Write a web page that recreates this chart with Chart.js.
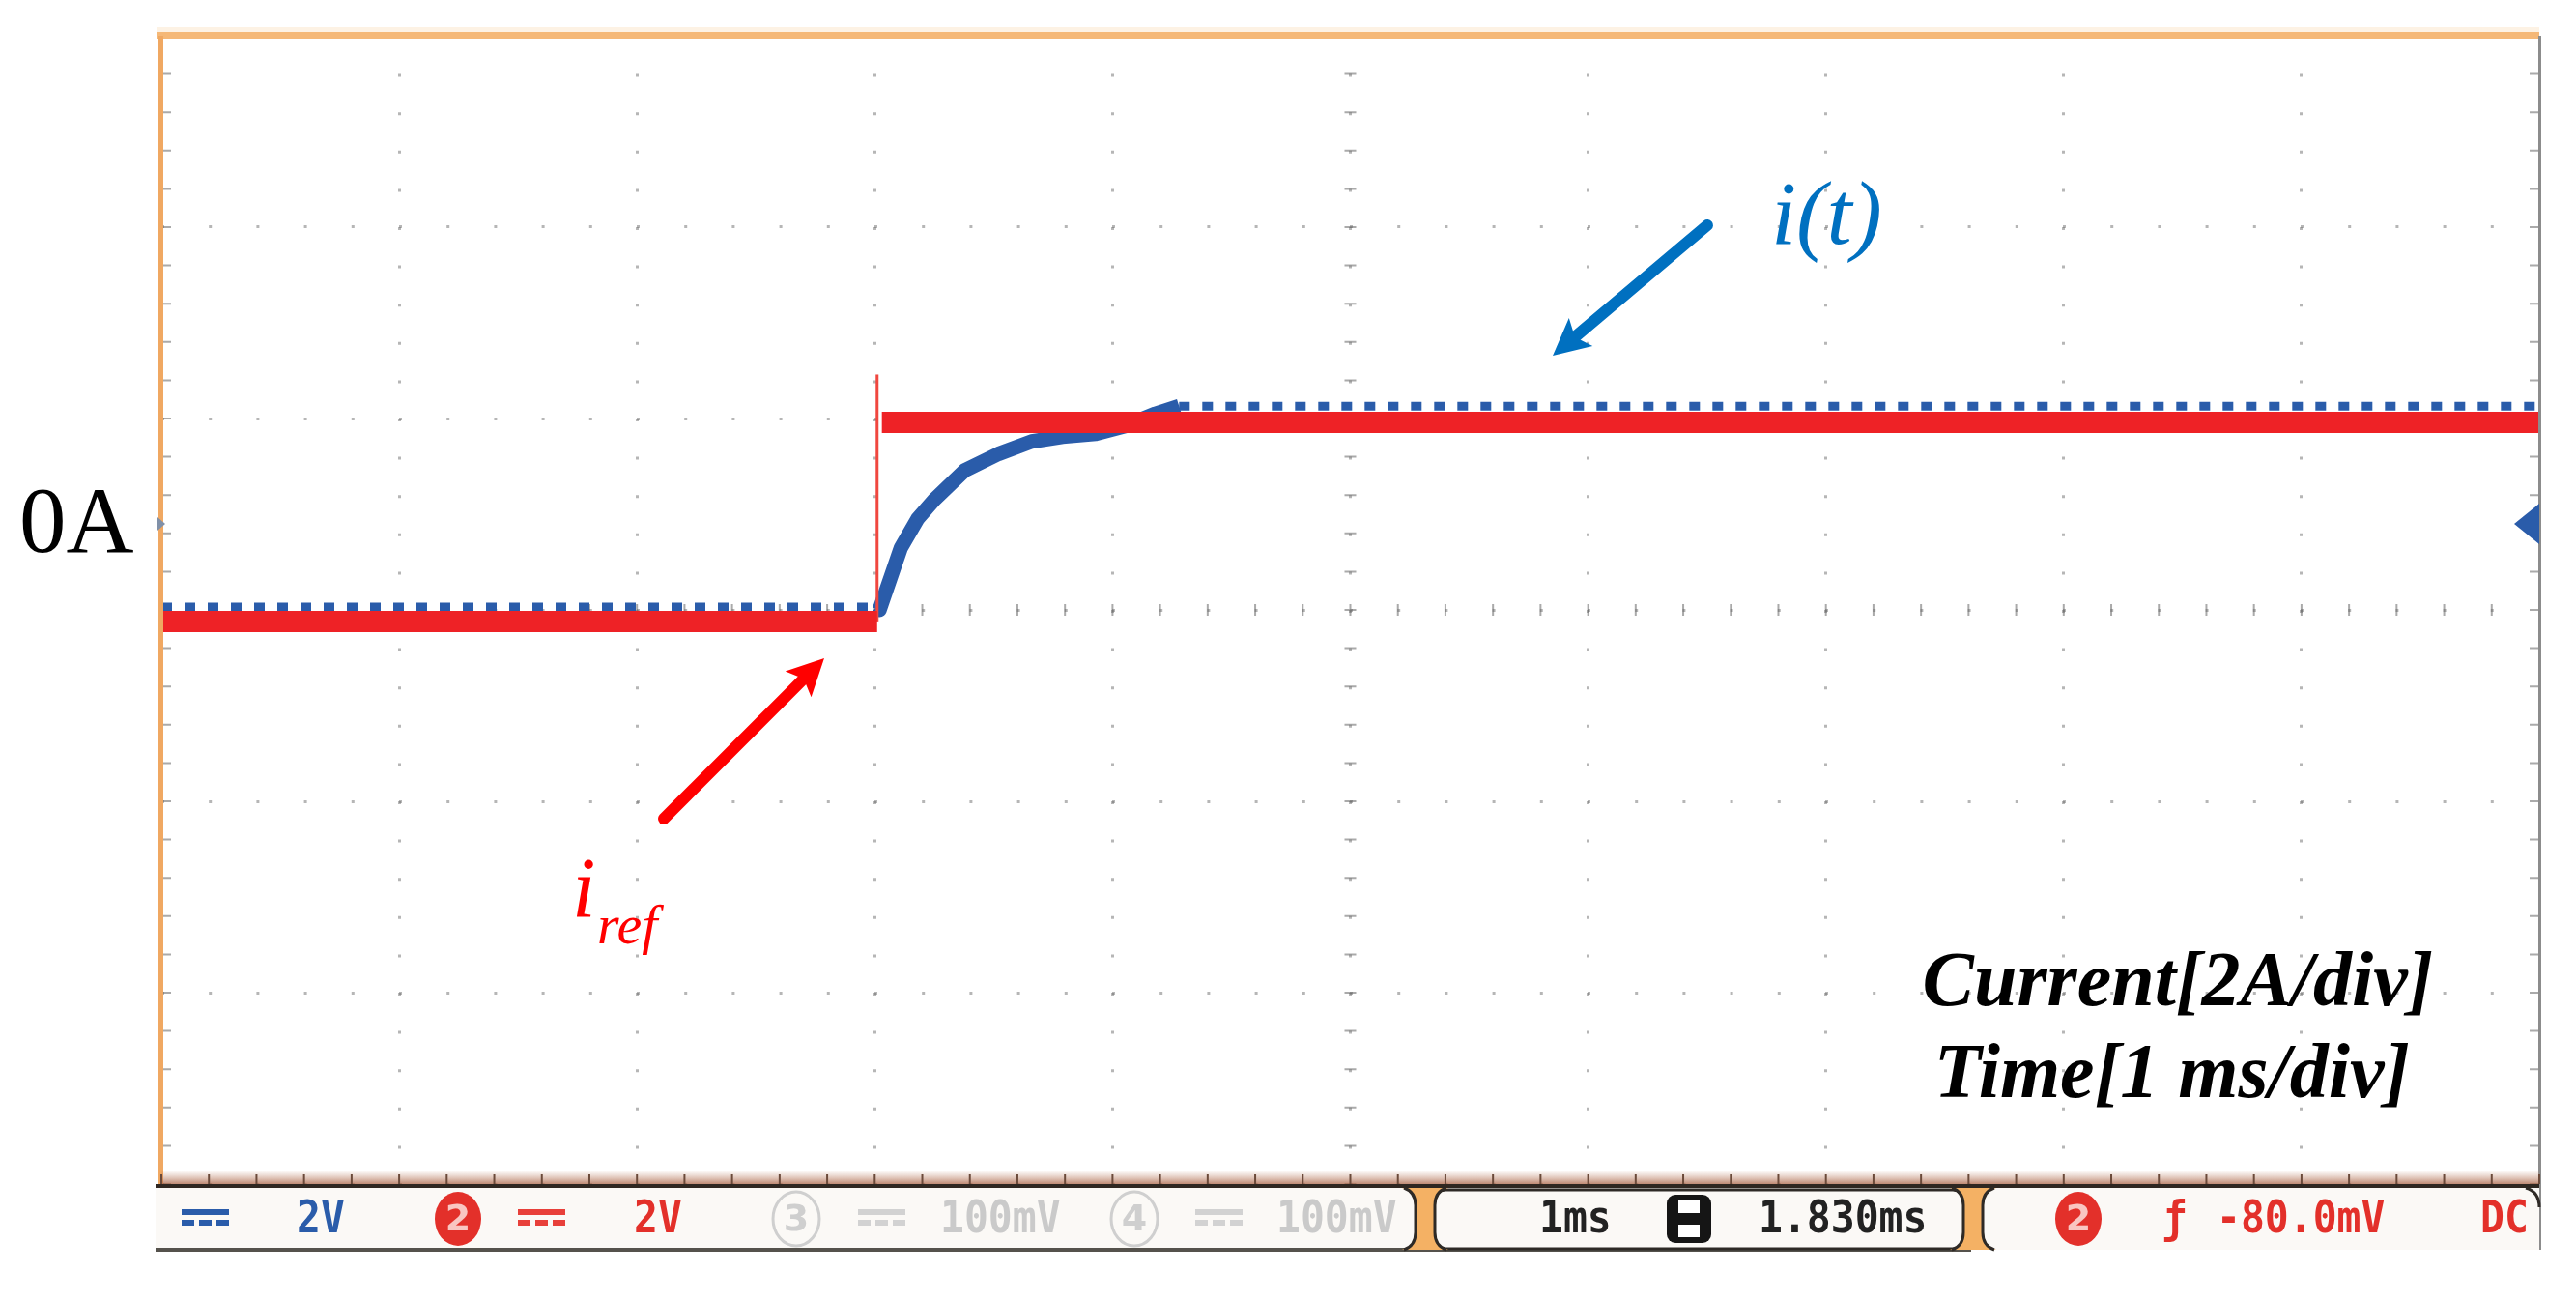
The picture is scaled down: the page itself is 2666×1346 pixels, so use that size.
<!DOCTYPE html>
<html>
<head>
<meta charset="utf-8">
<title>Current step response</title>
<script src="https://cdn.jsdelivr.net/npm/chart.js@4.4.1/dist/chart.umd.min.js"></script>
<style>
  html, body { margin: 0; padding: 0; background: #fff; }
  canvas { display: block; }
</style>
</head>
<body>
<canvas id="scope" width="2666" height="1346"></canvas>
<script>
// screen: 10 div x 1 ms, 6 div x 2 A
const X_MIN = 0, X_MAX = 10;
const Y_MIN = -6.9, Y_MAX = 5.1;
const Y_DIV = 2;

// reference current i_ref (red), null = gap at the step
const refTime = [0, 3.01, 3.01, 3.03, 10];
const refCurrent = [-1.02, -1.02, null, 1.06, 1.06];
// thin edge of the reference step
const edgeTime = [3.01, 3.01];
const edgeCurrent = [-1.02, 1.56];

// measured current i(t) (blue)
const measTime = [0, 3.01, 3.02, 3.11, 3.18, 3.25, 3.38, 3.52, 3.66, 3.79, 3.93, 4.05, 4.18, 4.28, 10];
const measCurrent = [-0.87, -0.87, -0.9, -0.25, 0.05, 0.25, 0.56, 0.73, 0.86, 0.91, 0.94, 1.02, 1.15, 1.23, 1.23];

// status line of the scope
const chanScales = ['2V', '2V', '100mV', '100mV'];
const timeBase = '1ms';
const delay = '1.830ms';
const trigLevel = '-80.0mV';
const coupling = 'DC';

const pts = (xs, ys) => xs.map((t, i) => ({ x: t, y: ys[i] }));
const flat = c => c.p0.parsed.y === c.p1.parsed.y;

function scopeText(ctx, str, x, y, color) {
  ctx.save();
  ctx.translate(x, y);
  ctx.scale(0.9, 1);
  ctx.fillStyle = color;
  ctx.font = 'bold 46px "DejaVu Sans Mono"';
  ctx.textBaseline = 'middle';
  ctx.fillText(str, 0, 2);
  ctx.restore();
}

function dcIcon(ctx, x, y, color) {
  ctx.fillStyle = color;
  ctx.fillRect(x, y - 10, 49, 6);
  for (let k = 0; k < 3; k++) ctx.fillRect(x + k * 18, y + 1, 13, 6);
}

function chanBadge(ctx, cx, cy, num, filled, color) {
  ctx.save();
  ctx.beginPath();
  ctx.ellipse(cx, cy, 24, 28, 0, 0, Math.PI * 2);
  if (filled) {
    ctx.fillStyle = color;
    ctx.fill();
  } else {
    ctx.strokeStyle = color;
    ctx.lineWidth = 3;
    ctx.stroke();
  }
  ctx.fillStyle = filled ? '#f9c6c2' : color;
  ctx.font = 'bold 38px "DejaVu Sans"';
  ctx.textAlign = 'center';
  ctx.textBaseline = 'middle';
  ctx.fillText(num, cx, cy + 2);
  ctx.restore();
}

function arrow(ctx, x0, y0, x1, y1, color) {
  const ang = Math.atan2(y1 - y0, x1 - x0);
  const c = Math.cos(ang), s = Math.sin(ang);
  const head = 38, half = 19;
  const bx = x1 - head * c, by = y1 - head * s;
  ctx.save();
  ctx.strokeStyle = color;
  ctx.lineWidth = 12;
  ctx.lineCap = 'round';
  ctx.beginPath();
  ctx.moveTo(x0, y0);
  ctx.lineTo(bx + 6 * c, by + 6 * s);
  ctx.stroke();
  ctx.fillStyle = color;
  ctx.beginPath();
  ctx.moveTo(x1, y1);
  ctx.lineTo(bx + half * s, by - half * c);
  ctx.lineTo(bx + 8 * c, by + 8 * s);
  ctx.lineTo(bx - half * s, by + half * c);
  ctx.closePath();
  ctx.fill();
  ctx.restore();
}

function separator(ctx, cx, y0, y1) {
  ctx.save();
  ctx.fillStyle = '#f4b164';
  ctx.beginPath();
  ctx.moveTo(cx - 24, y0);
  ctx.lineTo(cx + 24, y0);
  ctx.quadraticCurveTo(cx + 10, y0 + 4, cx + 10, y0 + 18);
  ctx.lineTo(cx + 10, y1 - 18);
  ctx.quadraticCurveTo(cx + 10, y1 - 4, cx + 24, y1);
  ctx.lineTo(cx - 24, y1);
  ctx.quadraticCurveTo(cx - 10, y1 - 4, cx - 10, y1 - 18);
  ctx.lineTo(cx - 10, y0 + 18);
  ctx.quadraticCurveTo(cx - 10, y0 + 4, cx - 24, y0);
  ctx.fill();
  ctx.strokeStyle = '#2e2a26';
  ctx.lineWidth = 3;
  ctx.beginPath();
  ctx.moveTo(cx - 22, y0);
  ctx.quadraticCurveTo(cx - 10, y0 + 4, cx - 10, y0 + 18);
  ctx.lineTo(cx - 10, y1 - 18);
  ctx.quadraticCurveTo(cx - 10, y1 - 4, cx - 22, y1);
  ctx.moveTo(cx + 22, y0);
  ctx.quadraticCurveTo(cx + 10, y0 + 4, cx + 10, y0 + 18);
  ctx.lineTo(cx + 10, y1 - 18);
  ctx.quadraticCurveTo(cx + 10, y1 - 4, cx + 22, y1);
  ctx.stroke();
  ctx.restore();
}

const scopeDecor = {
  id: 'scopeDecor',
  beforeDatasetsDraw(chart) {
    const { ctx, chartArea: a, scales: { x, y } } = chart;
    const xc = x.getPixelForValue((X_MIN + X_MAX) / 2);
    const yc = y.getPixelForValue((Y_MIN + Y_MAX) / 2);
    ctx.save();
    ctx.strokeStyle = 'rgba(100,100,100,0.55)';
    ctx.lineWidth = 2;
    ctx.beginPath();
    for (let t = X_MIN; t <= X_MAX + 1e-6; t += 0.2) {
      const px = x.getPixelForValue(t);
      ctx.moveTo(px, yc - 6); ctx.lineTo(px, yc + 6);
    }
    for (let v = Y_MIN; v <= Y_MAX + 1e-6; v += Y_DIV / 5) {
      const py = y.getPixelForValue(v);
      ctx.moveTo(xc - 6, py); ctx.lineTo(xc + 6, py);
      ctx.moveTo(a.left, py); ctx.lineTo(a.left + 10, py);
      ctx.moveTo(a.right, py); ctx.lineTo(a.right - 10, py);
    }
    ctx.stroke();
    ctx.restore();
  },
  afterDraw(chart) {
    const { ctx, chartArea: a, scales: { x, y } } = chart;
    const zeroY = y.getPixelForValue(0);
    ctx.save();

    // frame
    ctx.fillStyle = '#fdf2e4';
    ctx.fillRect(a.left - 4, a.top - 9, a.right - a.left + 4, 5);
    ctx.fillStyle = '#f5b877';
    ctx.fillRect(a.left - 4, a.top - 4, a.right - a.left + 4, 7);
    ctx.fillStyle = '#f0a862';
    ctx.fillRect(a.left - 3, a.top, 5, a.bottom - a.top);
    ctx.fillStyle = '#8c8c8c';
    ctx.fillRect(a.right - 1, a.top, 3, a.bottom - a.top + 68);

    // bottom strip with ticks
    const g = ctx.createLinearGradient(0, a.bottom - 14, 0, a.bottom);
    g.addColorStop(0, 'rgba(190,130,100,0)');
    g.addColorStop(1, 'rgba(170,100,70,0.75)');
    ctx.fillStyle = g;
    ctx.fillRect(a.left, a.bottom - 14, a.right - a.left, 14);
    ctx.strokeStyle = '#6b4a3a';
    ctx.lineWidth = 2;
    ctx.beginPath();
    for (let t = X_MIN; t <= X_MAX + 1e-6; t += 0.2) {
      const px = x.getPixelForValue(t);
      ctx.moveTo(px, a.bottom); ctx.lineTo(px, a.bottom - 10);
    }
    ctx.stroke();

    // channel ground markers
    ctx.fillStyle = '#2a5caa';
    ctx.beginPath();
    ctx.moveTo(a.right - 26, zeroY);
    ctx.lineTo(a.right, zeroY - 21);
    ctx.lineTo(a.right, zeroY + 21);
    ctx.closePath();
    ctx.fill();
    ctx.fillStyle = '#8090a8';
    ctx.beginPath();
    ctx.moveTo(a.left + 4, zeroY);
    ctx.lineTo(a.left - 4, zeroY - 7);
    ctx.lineTo(a.left - 4, zeroY + 7);
    ctx.closePath();
    ctx.fill();

    // 0A label
    ctx.fillStyle = '#000';
    ctx.font = '97px "Liberation Serif"';
    ctx.textBaseline = 'alphabetic';
    ctx.fillText('0A', 20, zeroY + 29);

    // arrows and trace names
    arrow(ctx, 1767, 233, 1607, 368, '#0070c0');
    arrow(ctx, 687, 847, 853, 681, '#ff0000');
    ctx.fillStyle = '#0070c0';
    ctx.font = 'italic 94px "Liberation Serif"';
    ctx.fillText('i(t)', 1833, 252);
    ctx.fillStyle = '#ff0000';
    ctx.font = 'italic 88px "Liberation Serif"';
    ctx.fillText('i', 592, 948);
    ctx.font = 'italic 58px "Liberation Serif"';
    ctx.fillText('ref', 618, 976);

    // scale note
    ctx.fillStyle = '#000';
    ctx.font = 'bold italic 80px "Liberation Serif"';
    ctx.textAlign = 'center';
    ctx.fillText('Current[2A/div]', 2254, 1040);
    ctx.fillText('Time[1 ms/div]', 2248, 1135);
    ctx.textAlign = 'left';

    // status line
    const sy0 = a.bottom + 4, sy1 = 1293, sc = (sy0 + sy1) / 2;
    ctx.fillStyle = '#fbf9f6';
    ctx.fillRect(161, sy0, a.right - 161, sy1 - sy0);
    ctx.fillStyle = '#2f2721';
    ctx.fillRect(161, a.bottom, a.right - 161, 4);
    ctx.fillStyle = '#55524c';
    ctx.fillRect(161, sy1 - 2, 2040 - 161, 4);

    ctx.strokeStyle = '#2e2a26';
    ctx.lineWidth = 3;
    ctx.beginPath();
    ctx.roundRect(1484, sy0 + 2, 2033 - 1484, sy1 - sy0 - 3, 12);
    ctx.stroke();
    ctx.beginPath();
    ctx.moveTo(a.right - 14, sy0);
    ctx.quadraticCurveTo(a.right, sy0 + 4, a.right, sy0 + 20);
    ctx.stroke();

    dcIcon(ctx, 188, sc, '#2a5caa');
    scopeText(ctx, chanScales[0], 307, sc, '#2a5caa');
    chanBadge(ctx, 474, sc, '2', true, '#e3302a');
    dcIcon(ctx, 536, sc, '#e8403a');
    scopeText(ctx, chanScales[1], 656, sc, '#e3302a');
    chanBadge(ctx, 824, sc, '3', false, '#cfcfcf');
    dcIcon(ctx, 888, sc, '#d2d2d2');
    scopeText(ctx, chanScales[2], 973, sc, '#cacaca');
    chanBadge(ctx, 1174, sc, '4', false, '#cfcfcf');
    dcIcon(ctx, 1237, sc, '#d2d2d2');
    ctx.save();
    ctx.beginPath();
    ctx.rect(1300, sy0, 160, sy1 - sy0);
    ctx.clip();
    scopeText(ctx, chanScales[3], 1321, sc, '#cacaca');
    ctx.restore();

    separator(ctx, 1475, sy0, sy1);
    separator(ctx, 2042, sy0, sy1);

    scopeText(ctx, timeBase, 1593, sc, '#222');
    // delay icon: black H in a black frame
    ctx.fillStyle = '#151515';
    ctx.beginPath();
    ctx.roundRect(1725, sc - 25, 46, 50, 9);
    ctx.fill();
    ctx.fillStyle = '#fff';
    ctx.fillRect(1737, sc - 19, 22, 13);
    ctx.fillRect(1737, sc + 6, 22, 13);
    scopeText(ctx, delay, 1820, sc, '#222');

    chanBadge(ctx, 2151, sc, '2', true, '#e3302a');
    scopeText(ctx, '\u0192', 2238, sc, '#e3302a');
    scopeText(ctx, trigLevel, 2294, sc, '#e3302a');
    scopeText(ctx, coupling, 2567, sc, '#e3302a');

    ctx.restore();
  }
};

const gridColor = 'rgba(110,110,110,0.5)';

new Chart(document.getElementById('scope'), {
  type: 'line',
  data: {
    datasets: [
      {
        label: 'iref',
        data: pts(refTime, refCurrent),
        borderColor: '#ee2226',
        borderWidth: 22,
        borderCapStyle: 'butt',
        pointRadius: 0,
        spanGaps: false
      },
      {
        label: 'iref edge',
        data: pts(edgeTime, edgeCurrent),
        borderColor: '#f0473f',
        borderWidth: 3,
        pointRadius: 0
      },
      {
        label: 'i(t)',
        data: pts(measTime, measCurrent),
        borderColor: '#2a5caa',
        borderWidth: 9,
        borderCapStyle: 'butt',
        borderJoinStyle: 'round',
        pointRadius: 0,
        segment: {
          borderDash: c => flat(c) ? [11, 13] : undefined,
          borderWidth: c => flat(c) ? 9 : 15
        }
      }
    ]
  },
  options: {
    responsive: false,
    animation: false,
    layout: { padding: { left: 167, top: 37, right: 38, bottom: 121 } },
    plugins: { legend: { display: false }, tooltip: { enabled: false } },
    elements: { line: { tension: 0 } },
    scales: {
      x: {
        type: 'linear',
        min: X_MIN,
        max: X_MAX,
        ticks: { display: false, stepSize: 1 },
        grid: { color: gridColor, lineWidth: 3, drawTicks: false },
        border: { display: false, dash: [3, 36.6] }
      },
      y: {
        type: 'linear',
        min: Y_MIN,
        max: Y_MAX,
        afterBuildTicks: s => {
          s.ticks = [0, 1, 2, 3, 4, 5, 6].map(k => ({ value: Y_MIN + k * Y_DIV }));
        },
        ticks: { display: false },
        grid: { color: gridColor, lineWidth: 3, drawTicks: false },
        border: { display: false, dash: [3, 46.2] }
      }
    }
  },
  plugins: [scopeDecor]
});
</script>
</body>
</html>
